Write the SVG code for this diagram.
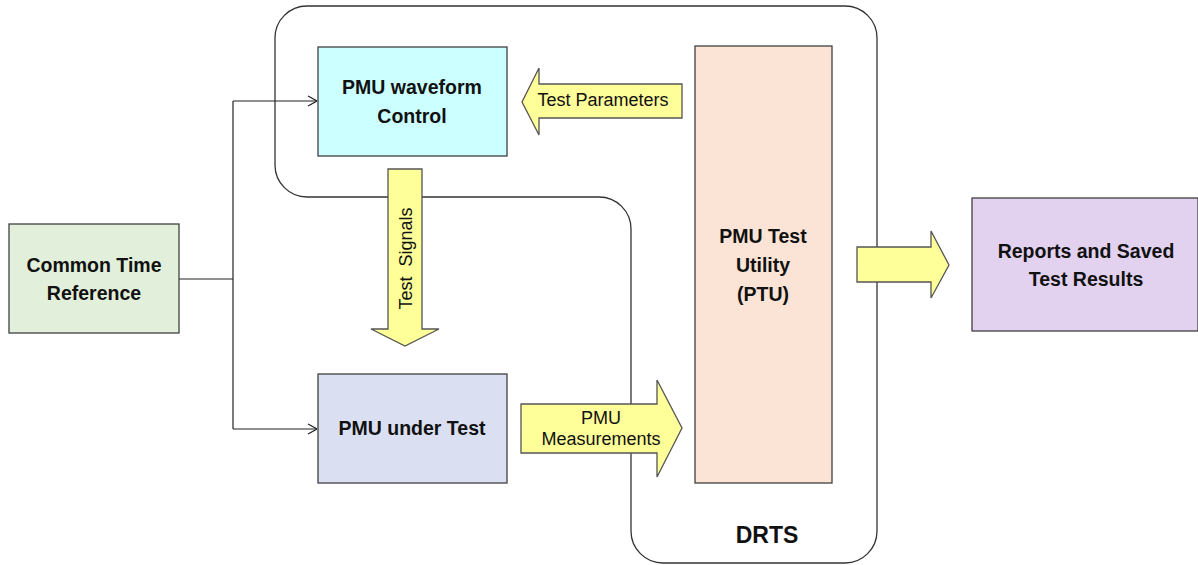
<svg xmlns="http://www.w3.org/2000/svg" width="1198" height="565" viewBox="0 0 1198 565">
  <style>
    .box { stroke: #404040; stroke-width: 1.3; }
    .flow { fill: #FFFF99; stroke: #555555; stroke-width: 1.3; stroke-linejoin: miter; }
    .wire { fill: none; stroke: #222222; stroke-width: 1.2; }
    .title { font-family: "Liberation Sans", Arial, sans-serif; font-weight: bold; font-size: 19.5px; fill: #111111; text-anchor: middle; }
    .big { font-size: 23px; }
    .label { font-family: "Liberation Sans", Arial, sans-serif; font-size: 18px; fill: #111111; text-anchor: middle; }
  </style>
  <defs>
    <marker id="open" viewBox="0 0 10 12" refX="10" refY="6" markerWidth="10" markerHeight="12" markerUnits="userSpaceOnUse" orient="auto">
      <path d="M1,1 L10,6 L1,11" fill="none" stroke="#222222" stroke-width="1.2"/>
    </marker>
  </defs>
  <rect width="1198" height="565" fill="#FFFFFF"/>

  <!-- DRTS enclosure -->
  <g id="drts">
    <path d="M307,6 H845 A32,32 0 0 1 877,38 V531 A32,32 0 0 1 845,563 H663 A32,32 0 0 1 631,531 V229 A32,32 0 0 0 599,197 H307 A32,32 0 0 1 275,165 V38 A32,32 0 0 1 307,6 Z" fill="none" stroke="#333333" stroke-width="1.3"/>
    <text x="767" y="543" class="title big">DRTS</text>
  </g>

  <!-- connectors from the time reference -->
  <g id="connectors">
    <path class="wire" d="M179,279 H233"/>
    <path class="wire" d="M233,101 V429"/>
    <path class="wire" d="M233,101 H317" marker-end="url(#open)"/>
    <path class="wire" d="M233,429 H317" marker-end="url(#open)"/>
  </g>

  <g id="common-time-reference">
    <rect x="9" y="224" width="170" height="109" class="box" fill="#E2EFDA"/>
    <text x="94" y="272" class="title">Common Time</text>
    <text x="94" y="300" class="title">Reference</text>
  </g>

  <g id="pmu-waveform-control">
    <rect x="318" y="47" width="189" height="109" class="box" fill="#CCFFFF"/>
    <text x="412" y="94" class="title">PMU waveform</text>
    <text x="412" y="123" class="title">Control</text>
  </g>

  <g id="pmu-under-test">
    <rect x="318" y="374" width="189" height="109" class="box" fill="#DAE0F2"/>
    <text x="412" y="435" class="title">PMU under Test</text>
  </g>

  <g id="ptu">
    <rect x="695" y="46" width="137" height="437" class="box" fill="#FBE4D5"/>
    <text x="763" y="243" class="title">PMU Test</text>
    <text x="763" y="272" class="title">Utility</text>
    <text x="763" y="301" class="title">(PTU)</text>
  </g>

  <g id="reports">
    <rect x="972" y="198" width="226" height="133" class="box" fill="#E2D1EF"/>
    <text x="1086" y="258" class="title">Reports and Saved</text>
    <text x="1086" y="286" class="title">Test Results</text>
  </g>

  <!-- block arrows -->
  <g id="test-parameters">
    <path class="flow" d="M682,84 H539 V68 L522,102 L539,135 V118 H682 Z"/>
    <text x="603" y="106" class="label">Test Parameters</text>
  </g>

  <g id="test-signals">
    <path class="flow" d="M388,169 H422 V329 H439 L405,346 L371,329 H388 Z"/>
    <text transform="translate(411.5,258.5) rotate(-90)" x="0" y="0" class="label" style="white-space:pre">Test  Signals</text>
  </g>

  <g id="pmu-measurements">
    <path class="flow" d="M521,404 H657 V380 L682,428 L657,477 V453 H521 Z"/>
    <text x="601" y="424" class="label">PMU</text>
    <text x="601" y="445" class="label">Measurements</text>
  </g>

  <g id="results-output">
    <path class="flow" d="M857,247 H931 V231 L949,265 L931,298 V282 H857 Z"/>
  </g>
</svg>
